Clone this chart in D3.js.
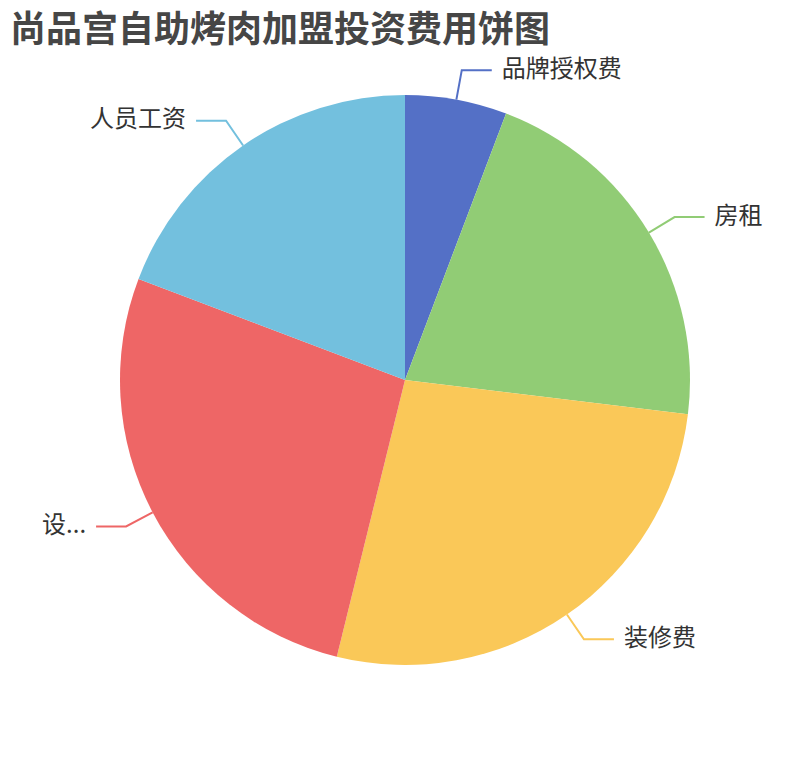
<!DOCTYPE html>
<html>
<head>
<meta charset="utf-8">
<script src="https://cdn.jsdelivr.net/npm/d3@7"></script>
<style>
  body { margin: 0; background: #fff; }
  svg { display: block; }
</style>
</head>
<body>
<svg id="chart" width="810" height="760"></svg>
<script>
const title = "尚品宫自助烤肉加盟投资费用饼图";
const categories = ["品牌授权费", "房租", "装修费", "设...", "人员工资"];
const values = [3, 11, 14, 14, 10];
const colors = ["#5470c6", "#91cc75", "#fac858", "#ee6666", "#73c0de"];

const width = 810, height = 760;
const font = "'Noto Sans CJK SC', 'Noto Sans', sans-serif";
const svg = d3.select("#chart");

svg.append("text")
  .attr("x", 10)
  .attr("y", 26)
  .attr("dominant-baseline", "central")
  .style("font-family", font)
  .style("font-size", "36px")
  .style("font-weight", "bold")
  .style("fill", "#464646")
  .text(title);

const cx = width / 2, cy = height / 2;
const radius = Math.min(width, height) / 2 * 0.75;
const len1 = 30, len2 = 30, gap = 10;

const data = categories.map((c, i) => ({ name: c, value: values[i] }));
const pie = d3.pie().sort(null).value(d => d.value);
const arc = d3.arc().innerRadius(0).outerRadius(radius);
const color = d3.scaleOrdinal(categories, colors);

const g = svg.append("g").attr("transform", "translate(" + cx + "," + cy + ")");
const arcs = pie(data);

g.selectAll("path.slice")
  .data(arcs)
  .enter()
  .append("path")
  .attr("class", "slice")
  .attr("d", arc)
  .attr("fill", d => color(d.data.name));

// label lines: edge -> turn point -> horizontal
const labels = g.selectAll("g.label").data(arcs).enter().append("g").attr("class", "label");

labels.each(function (d) {
  const mid = (d.startAngle + d.endAngle) / 2;
  const sx = Math.sin(mid), sy = -Math.cos(mid);
  const right = sx >= 0;
  const p0 = [sx * radius, sy * radius];
  const p1 = [sx * (radius + len1), sy * (radius + len1)];
  const p2 = [p1[0] + (right ? len2 : -len2), p1[1]];
  const sel = d3.select(this);
  sel.append("polyline")
    .attr("points", [p0, p1, p2].map(p => p.join(",")).join(" "))
    .attr("fill", "none")
    .attr("stroke", color(d.data.name))
    .attr("stroke-width", 2);
  sel.append("text")
    .attr("x", p2[0] + (right ? gap : -gap))
    .attr("y", p2[1] - 4)
    .attr("dominant-baseline", "central")
    .attr("text-anchor", right ? "start" : "end")
    .style("font-family", font)
    .style("font-size", "24px")
    .style("fill", "#333")
    .text(d.data.name);
});
</script>
</body>
</html>
